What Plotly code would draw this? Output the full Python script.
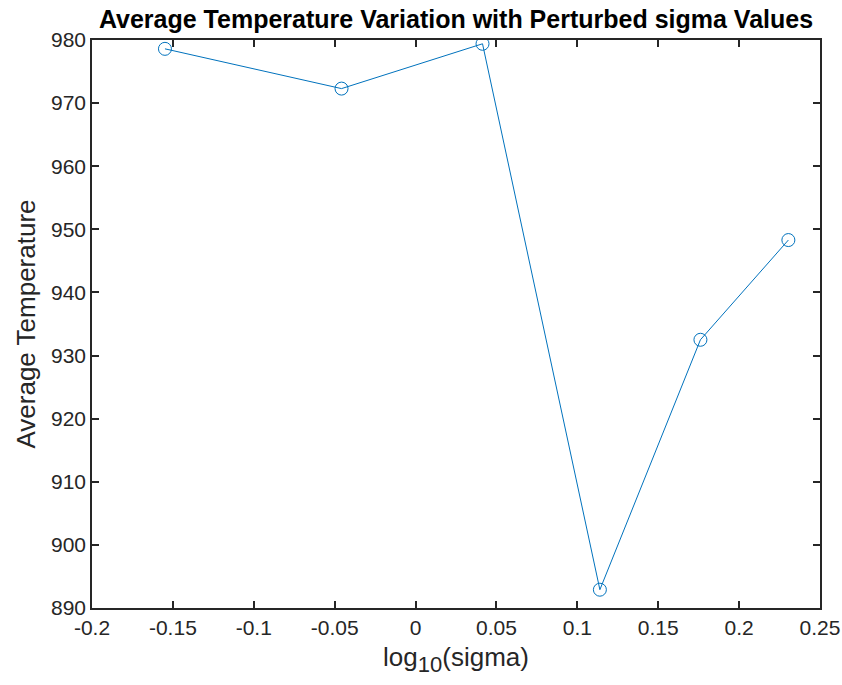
import numpy as np
import plotly.graph_objects as go

sigma = [0.7, 0.9, 1.1, 1.3, 1.5, 1.7]
avg_temp = [978.6, 972.3, 979.4, 892.9, 932.5, 948.3]
x_ticks = [-0.2, -0.15, -0.1, -0.05, 0, 0.05, 0.1, 0.15, 0.2, 0.25]
x_tick_text = ["-0.2", "-0.15", "-0.1", "-0.05", "0", "0.05", "0.1", "0.15", "0.2", "0.25"]
y_ticks = list(range(890, 981, 10))

log_sigma = np.log10(sigma)

fig = go.Figure()
fig.add_trace(go.Scatter(
    x=log_sigma, y=avg_temp, mode="lines+markers",
    line=dict(color="#0072BD", width=1),
    marker=dict(symbol="circle-open", size=13, color="#0072BD", line=dict(width=1)),
    showlegend=False,
))

font = "Liberation Sans, Arial, sans-serif"
axis_common = dict(
    showgrid=False, zeroline=False, showline=True, linecolor="#262626", linewidth=1.5,
    mirror="ticks", ticks="inside", ticklen=7, tickcolor="#262626", tickwidth=1.5,
    tickfont=dict(family=font, size=21, color="#262626"), automargin=False,
)
fig.update_layout(
    width=842, height=685,
    margin=dict(l=92, r=22, t=40, b=77),
    paper_bgcolor="white", plot_bgcolor="white",
    title=dict(text="<b>Average Temperature Variation with Perturbed sigma Values</b>",
               x=0.5, xref="paper", xanchor="center", y=1 - 19 / 685, yanchor="middle",
               font=dict(family=font, size=25, color="black")),
    xaxis=dict(range=[-0.2, 0.25], tickvals=x_ticks, ticktext=x_tick_text,
               title=dict(text="log<sub><span style='font-size:22px'>10</span></sub>(sigma)",
                          font=dict(family=font, size=26, color="#262626"), standoff=10),
               **axis_common),
    yaxis=dict(range=[890, 980], tickvals=y_ticks,
               title=dict(text="Average Temperature", font=dict(family=font, size=26, color="#262626"), standoff=8),
               **axis_common),
)
fig.write_html("out.html")
